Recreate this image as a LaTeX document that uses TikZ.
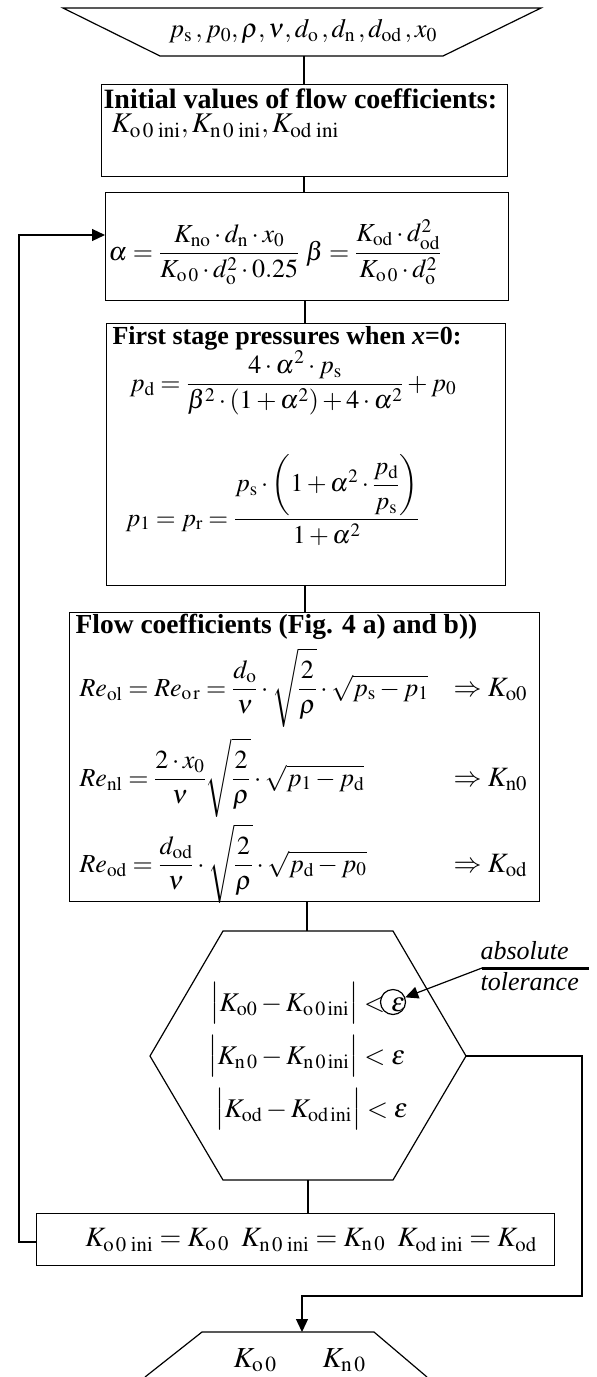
\documentclass[tikz,border=0pt]{standalone}
\usepackage{mathptmx}
\usepackage{graphicx}
\usepackage[no-math]{fontspec}
\setmainfont{Liberation Serif}
\usetikzlibrary{arrows.meta}
\newcommand{\vbl}{\mathopen{\scalebox{1}[1.25]{$\big|$}}}
\newcommand{\vbr}{\mathclose{\scalebox{1}[1.25]{$\big|$}}}
\begin{document}
\begin{tikzpicture}[x=1pt,y=-1pt,line width=1.2pt,
  box/.style={draw,rectangle,inner sep=0pt,anchor=north west},
  fs/.style={inner sep=0pt,font=\fontsize{#1}{#1}\selectfont},
  fsb/.style={inner sep=0pt,font=\fontsize{#1}{#1}\selectfont\bfseries},
  fsi/.style={inner sep=0pt,font=\fontsize{#1}{#1}\selectfont\itshape},
  arr/.style={-{Triangle[length=13pt,width=12pt]}}]
\useasboundingbox (0,0) rectangle (597,1377);
% input trapezoid
\draw (63,8) -- (541,8) -- (443,56) -- (160,56) -- cycle;
\node[fs=26.5] (inp) at (303,31) {$p_{\mathrm{s}}\,,p_0,\rho,\nu,d_{\mathrm{o}}\,,d_{\mathrm{n}}\,,d_{\mathrm{od}}\,,x_0$};
\coordinate (inpb) at (304,56);
% box 2
\node[box,minimum width=406pt,minimum height=92pt] (b2) at (101,84) {};
\node[fsb=28,anchor=west] (b2t) at (103,99) {Initial values of flow coefficients:};
\node[fs=28.5,anchor=west] (b2m) at (111,126) {$K_{\mathrm{o\,0\;ini}}, K_{\mathrm{n\,0\;ini}}, K_{\mathrm{od\;ini}}$};
% box 3
\node[box,minimum width=403pt,minimum height=108pt] (b3) at (105,192) {};
\node[fs=26,anchor=base west] (b3m) at (108,260) {$\displaystyle \alpha=\frac{K_{\mathrm{no}}\cdot d_{\mathrm{n}}\cdot x_0}{K_{\mathrm{o\,0}}\cdot d_{\mathrm{o}}^2\cdot 0.25}\ \beta=\frac{K_{\mathrm{od}}\cdot d_{\mathrm{od}}^2}{K_{\mathrm{o\,0}}\cdot d_{\mathrm{o}}^2}$};
% box 4
\node[box,minimum width=399pt,minimum height=262pt] (b4) at (106,323) {};
\node[fsb=26,anchor=west] (b4t) at (112,338) {First stage pressures when \textit{x}=0:};
\node[fs=26,anchor=base west] (b4a) at (129,391) {$\displaystyle p_{\mathrm{d}}=\frac{4\cdot\alpha^2\cdot p_{\mathrm{s}}}{\beta^2\cdot(1+\alpha^2)+4\cdot\alpha^2}+p_0$};
\node[fs=25.5,anchor=base west] (b4b) at (125,526) {$\displaystyle p_1=p_{\mathrm{r}}=\frac{p_{\mathrm{s}}\cdot\left(1+\alpha^2\cdot{\displaystyle\frac{p_{\mathrm{d}}}{p_{\mathrm{s}}}}\right)}{1+\alpha^2}$};
% box 5
\node[box,minimum width=470pt,minimum height=289pt] (b5) at (69,612) {};
\node[fsb=27.5,anchor=west] (b5t) at (75,627) {Flow coefficients (Fig. 4 a) and b))};
\node[fs=26,anchor=base west] (b5a) at (79,696) {$\displaystyle Re_{\mathrm{ol}}=Re_{\mathrm{o\,r}}=\frac{d_{\mathrm{o}}}{\nu}\cdot\sqrt{\frac{2}{\rho}}\cdot\sqrt{p_{\mathrm{s}}-p_1}$};
\node[fs=28,anchor=base west] (b5ak) at (453,696) {$\Rightarrow K_{\mathrm{o0}}$};
\node[fs=26,anchor=base west] (b5b) at (79,786) {$\displaystyle Re_{\mathrm{nl}}=\frac{2\cdot x_0}{\nu}\sqrt{\frac{2}{\rho}}\cdot\sqrt{p_1-p_{\mathrm{d}}}$};
\node[fs=28,anchor=base west] (b5bk) at (453,786) {$\Rightarrow K_{\mathrm{n0}}$};
\node[fs=26,anchor=base west] (b5c) at (79,872) {$\displaystyle Re_{\mathrm{od}}=\frac{d_{\mathrm{od}}}{\nu}\cdot\sqrt{\frac{2}{\rho}}\cdot\sqrt{p_{\mathrm{d}}-p_0}$};
\node[fs=28,anchor=base west] (b5ck) at (453,872) {$\Rightarrow K_{\mathrm{od}}$};
% hexagon
\draw (223,931) -- (393,931) -- (466,1056) -- (393,1180) -- (223,1180) -- (150,1056) -- cycle;
\coordinate (hext) at (307,931);
\coordinate (hexb) at (308,1180);
\coordinate (hexr) at (466,1056);
\node[fs=27,anchor=west] (h1) at (210,1003) {$\vbl K_{\mathrm{o0}}-K_{\mathrm{o\,0\,ini}}\vbr<\varepsilon$};
\node[fs=27,anchor=west] (h2) at (208,1056) {$\vbl K_{\mathrm{n\,0}}-K_{\mathrm{n\,0\,ini}}\vbr<\varepsilon$};
\node[fs=27,anchor=west] (h3) at (215,1109) {$\vbl K_{\mathrm{od}}-K_{\mathrm{od\,ini}}\vbr<\varepsilon$};
\node[draw,circle,minimum size=25pt,inner sep=0pt] (epsc) at (393,1002) {};
% annotation
\node[fsi=26,anchor=base west] (abs) at (480,959) {absolute};
\node[fsi=26,anchor=base west] (tol) at (480,990) {tolerance};
\coordinate (ann) at (482,968);
\coordinate (annr) at (589,968);
\draw[line width=3pt] (ann) -- (annr);
\draw[arr] (ann) -- (epsc);
% box 6
\node[box,minimum width=518pt,minimum height=52pt] (b6) at (36,1213) {};
\node[fs=28] (b6m) at (311,1240) {$K_{\mathrm{o\,0\;ini}}=K_{\mathrm{o\,0}}\;\;K_{\mathrm{n\,0\;ini}}=K_{\mathrm{n\,0}}\;\;K_{\mathrm{od\;ini}}=K_{\mathrm{od}}$};
% output trapezoid
\draw (145,1377) -- (202,1332) -- (374,1332) -- (427,1377);
\coordinate (outt) at (302,1332);
\node[fs=29] (o1) at (255,1360) {$K_{\mathrm{o\,0}}$};
\node[fs=29] (o2) at (344,1360) {$K_{\mathrm{n\,0}}$};
% connectors
\draw (inpb) -- (inpb |- b2.north);
\draw (inpb |- b2.south) -- (inpb |- b3.north);
\draw (305,300) coordinate (b3s) -- (b3s |- b4.north);
\draw (305,585) coordinate (b4s) -- (b4s |- b5.north);
\draw (hext |- b5.south) -- (hext);
\draw (hexb) -- (hexb |- b6.north);
\coordinate (lp1) at (19,1242);
\coordinate (lp2) at (19,235);
\draw[arr] (b6.west |- lp1) -- (lp1) -- (lp2) -- (b3.west |- lp2);
\coordinate (rp1) at (582,1056);
\coordinate (rp2) at (582,1296);
\coordinate (rp3) at (302,1296);
\draw[arr] (hexr) -- (rp1) -- (rp2) -- (rp3) -- (outt);
\end{tikzpicture}
\end{document}
